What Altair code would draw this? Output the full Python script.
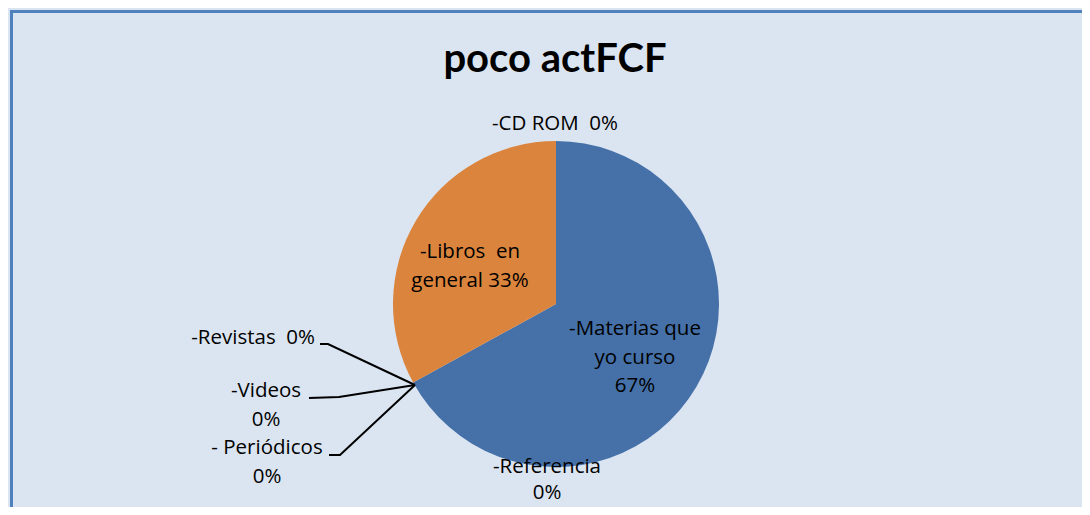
import altair as alt
import pandas as pd

# ---- data ----
categories = ["-Materias que yo curso", "-Referencia", "-Revistas", "-Videos",
              "- Periódicos", "-Libros en general", "-CD ROM"]
values = [67, 0, 0, 0, 0, 33, 0]
colors = ["#4571a8", "#9bbb59", "#8064a2", "#4bacc6", "#f79646", "#db843d", "#c0504d"]
label_texts = ["-Materias que\nyo curso\n67%", "-Referencia\n0%", "-Revistas\u00a0 0%",
               "-Videos\n0%", "- Periódicos\n0%", "-Libros\u00a0 en\ngeneral 33%", "-CD ROM\u00a0 0%"]
title_text = "poco actFCF"

W, H = 1074, 499
CX, CY, R = 546, 294, 163
FONT = "Open Sans"

pie_df = pd.DataFrame({"categoria": categories, "valor": values, "idx": list(range(len(categories)))})

pie = alt.Chart(pie_df).mark_arc(radius=R, stroke=None).encode(
    theta=alt.Theta("valor:Q", stack=True),
    color=alt.Color("categoria:N", scale=alt.Scale(domain=categories, range=colors), legend=None),
    order=alt.Order("idx:Q"),
    x=alt.value(CX), y=alt.value(CY),
)

# label placement (annotation layout; y = first line, line height)
label_pos = {
    "-Materias que yo curso": (625, 319, "center", 28.5),
    "-Referencia": (537, 457, "center", 26),
    "-Revistas": (305, 328, "right", 28.5),
    "-Videos": (256, 381, "center", 28.5),
    "- Periódicos": (257, 438, "center", 28.5),
    "-Libros en general": (460, 242, "center", 28.5),
    "-CD ROM": (545, 114, "center", 28.5),
}

layers = [pie]
for cat, txt in zip(categories, label_texts):
    px, py, al, lh = label_pos[cat]
    layers.append(
        alt.Chart(pd.DataFrame({"t": [txt]})).mark_text(
            font=FONT, fontSize=20.5, color="#000000", align=al, baseline="middle",
            lineBreak="\n", lineHeight=lh,
        ).encode(text="t:N", x=alt.value(px), y=alt.value(py))
    )

# leader lines
leaders = pd.DataFrame({
    "lab": ["rev"] * 3 + ["vid"] * 3 + ["per"] * 3,
    "o": [0, 1, 2] * 3,
    "x": [310, 318, 405, 299, 329, 405, 319, 330, 405],
    "y": [334, 334, 375, 388, 387, 375, 445, 445, 375],
})
lead = alt.Chart(leaders).mark_line(color="#000000", strokeWidth=2).encode(
    x=alt.X("x:Q", scale=None, axis=None),
    y=alt.Y("y:Q", scale=None, axis=None),
    detail="lab:N", order="o:Q",
)
layers.append(lead)

title = alt.Chart(pd.DataFrame({"t": [title_text]})).mark_text(
    font="Lato", fontSize=40, fontWeight="bold", color="#000000", align="center", baseline="alphabetic"
).encode(text="t:N", x=alt.value(545), y=alt.value(62))
layers.append(title)

border_color = "#4f81bd"
top_border = alt.Chart(pd.DataFrame({"a": [0]})).mark_rule(color=border_color, strokeWidth=3).encode(
    x=alt.value(0), x2=alt.value(W), y=alt.value(1.5))
left_border = alt.Chart(pd.DataFrame({"a": [0]})).mark_rule(color=border_color, strokeWidth=3).encode(
    x=alt.value(1.5), y=alt.value(0), y2=alt.value(H))
layers += [top_border, left_border]

chart = alt.layer(*layers).properties(
    width=W, height=H, padding=0, background="#dbe5f1",
    autosize=alt.AutoSizeParams(type="fit", contains="padding"),
).configure_view(fill="#dbe5f1", strokeWidth=0)

chart.save("out.html", embed_options={"renderer": "svg", "actions": False})
